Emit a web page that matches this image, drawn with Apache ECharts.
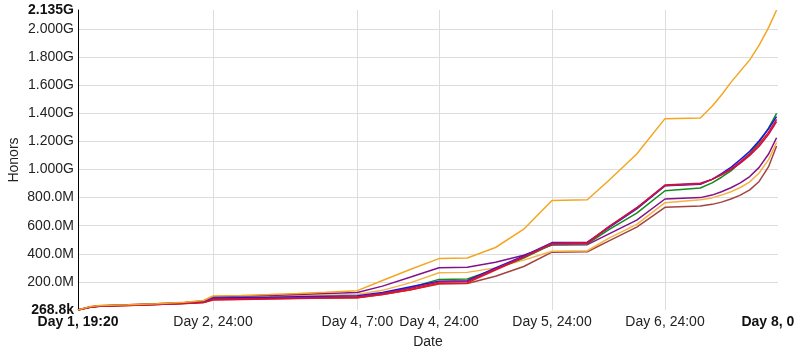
<!DOCTYPE html>
<html>
<head>
<meta charset="utf-8">
<script src="https://cdn.jsdelivr.net/npm/echarts@6/dist/echarts.min.js"></script>
<style>
  html, body { margin: 0; padding: 0; background: #fff; }
  #chart { width: 795px; height: 351px; }
</style>
</head>
<body>
<div id="chart"></div>
<script>
// hours since Day 1, 0:00
var hours = [19.333, 20.5, 22, 24, 30, 36, 42, 46, 48, 54, 60, 66, 72, 78.667, 84, 90, 96, 102, 108, 114, 120, 127.5, 132, 138, 144, 151.5, 154, 156, 158, 160, 162, 164, 166, 167.7];

// honors, in millions
var orange  = [0.2688, 12, 25, 32, 38, 45, 55, 68, 100, 104, 110, 117, 126, 138, 210, 290, 366, 370, 445, 575, 780, 785, 920, 1110, 1362, 1366, 1450, 1530, 1620, 1700, 1780, 1885, 2010, 2135];
var purple  = [0.2688, 11, 24, 31, 37, 44, 53, 65, 95, 99, 104, 110, 117, 125, 170, 235, 301, 304, 340, 390, 462, 465, 540, 640, 790, 800, 818, 842, 870, 905, 950, 1015, 1110, 1226];
var lorange = [0.2688, 11, 24, 31, 37, 44, 53, 64, 92, 95, 98, 102, 106, 110, 140, 195, 265, 268, 300, 355, 418, 422, 510, 610, 764, 785, 798, 818, 842, 872, 912, 975, 1070, 1192];
var brown   = [0.2688, 9, 20, 27, 33, 39, 46, 54, 75, 77, 80, 83, 86, 88, 110, 145, 186, 189, 240, 310, 412, 415, 490, 590, 731, 740, 752, 768, 790, 818, 855, 915, 1020, 1167];
var green   = [0.2688, 10, 22, 29, 35, 42, 50, 60, 82, 84, 86, 88, 89, 91, 120, 160, 218, 221, 290, 370, 468, 471, 570, 690, 849, 868, 905, 945, 990, 1050, 1115, 1195, 1295, 1400];
var red     = [0.2688, 9, 20, 27, 33, 39, 46, 54, 72, 75, 78, 82, 85, 88, 110, 145, 190, 193, 285, 375, 472, 475, 590, 725, 886, 898, 930, 965, 1005, 1055, 1110, 1180, 1265, 1357];
var blue    = [0.2688, 10, 22, 29, 35, 41, 49, 58, 85, 88, 91, 95, 98, 102, 125, 165, 205, 208, 300, 385, 480, 483, 585, 720, 884, 895, 930, 970, 1015, 1070, 1130, 1205, 1290, 1376];
var crimson = [0.2688, 10, 21, 28, 34, 40, 48, 56, 78, 81, 84, 88, 91, 94, 118, 155, 200, 203, 292, 380, 476, 480, 592, 728, 890, 902, 930, 962, 1000, 1045, 1100, 1165, 1250, 1340];

var xTickHours = [48, 78.667, 96, 120, 144];
var xLabelHours = [19.333, 48, 78.667, 96, 120, 144, 168];
var xLabelTexts = ['Day 1, 19:20', 'Day 2, 24:00', 'Day 4, 7:00', 'Day 4, 24:00', 'Day 5, 24:00', 'Day 6, 24:00', 'Day 8, 0:00'];

var yMin = 0.2688, yMax = 2135;
var yTicks = [200, 400, 600, 800, 1000, 1200, 1400, 1600, 1800, 2000];

function pairs(vals) {
  return hours.map(function (h, i) { return [h, vals[i]]; });
}

function fmtHonors(v) {
  if (v < 1) return (v * 1000).toFixed(1) + 'k';
  if (v >= 1000) return (v / 1000).toFixed(3) + 'G';
  return v.toFixed(1) + 'M';
}

var lines = [
  { name: 'Brown', color: '#a3433f', data: brown },
  { name: 'Light orange', color: '#f5b347', data: lorange },
  { name: 'Purple', color: '#82128a', data: purple },
  { name: 'Green', color: '#15891a', data: green },
  { name: 'Blue', color: '#1515f0', data: blue },
  { name: 'Red', color: '#e5161c', data: red },
  { name: 'Crimson', color: '#c4124f', data: crimson },
  { name: 'Orange', color: '#f4a622', data: orange }
];

var font = 'Liberation Sans, Arial, sans-serif';

var option = {
  animation: false,
  grid: { left: 78, right: 17, top: 10, bottom: 41, containLabel: false, outerBoundsMode: 'none' },
  xAxis: {
    type: 'value',
    min: 19.333,
    max: 168,
    name: 'Date',
    nameLocation: 'middle',
    nameGap: 25,
    nameMoveOverlap: false,
    nameTextStyle: { color: '#222', fontSize: 14, fontFamily: font },
    axisLine: { show: false },
    axisTick: { show: false, customValues: xTickHours },
    splitLine: { show: true, lineStyle: { color: '#dddddd', width: 1 } },
    axisLabel: {
      customValues: xLabelHours,
      margin: 5,
      color: '#222',
      fontSize: 14,
      fontFamily: font,
      formatter: function (v) {
        var i = xLabelHours.indexOf(v);
        var t = i >= 0 ? xLabelTexts[i] : '';
        if (i === 0 || i === xLabelHours.length - 1) return '{b|' + t + '}';
        return t;
      },
      rich: { b: { fontWeight: 'bold', fontSize: 14, fontFamily: font, color: '#111' } }
    }
  },
  yAxis: {
    type: 'value',
    min: yMin,
    max: yMax,
    name: 'Honors',
    nameLocation: 'middle',
    nameGap: 57,
    nameMoveOverlap: false,
    nameTextStyle: { color: '#222', fontSize: 14, fontFamily: font },
    axisLine: { show: true, lineStyle: { color: '#000', width: 1 } },
    axisTick: { show: false, customValues: yTicks },
    splitLine: { show: true, lineStyle: { color: '#dddddd', width: 1 } },
    axisLabel: {
      customValues: [yMin].concat(yTicks, [yMax]),
      margin: 4,
      color: '#222',
      fontSize: 14,
      fontFamily: font,
      formatter: function (v) {
        var t = fmtHonors(v);
        if (v === yMin || v === yMax) return '{b|' + t + '}';
        return t;
      },
      rich: { b: { fontWeight: 'bold', fontSize: 14, fontFamily: font, color: '#111' } }
    }
  },
  series: lines.map(function (l) {
    return {
      name: l.name,
      type: 'line',
      data: pairs(l.data),
      showSymbol: false,
      smooth: false,
      lineStyle: { color: l.color, width: 1.5 },
      itemStyle: { color: l.color }
    };
  })
};

var myChart = echarts.init(document.getElementById('chart'));
myChart.setOption(option);
</script>
</body>
</html>
